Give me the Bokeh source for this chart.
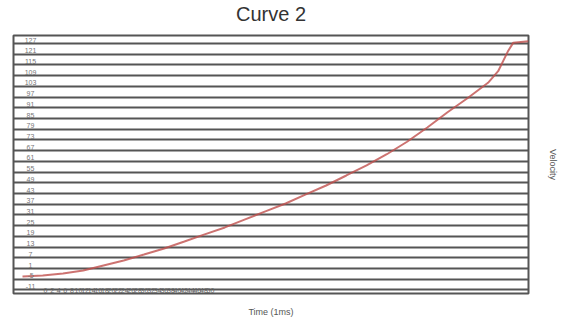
from bokeh.plotting import figure
from bokeh.models import Range1d, FixedTicker, Title
from bokeh.embed import file_html
from bokeh.resources import INLINE
from bokeh.core.properties import value

title = "Curve 2"
x_label = "Time (1ms)"
y_label = "Velocity"

time_ms = [0, 2, 4, 6, 8, 10, 12, 14, 16, 18, 20, 22, 24, 26, 28, 30, 32, 34,
           36, 38, 40, 42, 44, 46, 47, 48, 48.5, 50]
velocity = [-3.5, -2.9, -1.8, -0.1, 2.7, 5.5, 8.8, 12.2, 16.1, 20.1, 24.0, 28.5,
            33.0, 37.4, 42.5, 47.5, 53.1, 58.8, 65.0, 72.0, 80.0, 88.5, 96.5,
            105.0, 111.5, 123.0, 127.5, 128.3]

y_ticks = [-11, -5, 1, 7, 13, 19, 25, 31, 37, 43, 49, 55, 61, 67, 73, 79, 85,
           91, 97, 103, 109, 115, 121, 127]
y_tick_labels = ["-11", "-5", "1", "7", "13", "19", "25", "31", "37", "43", "49",
                 "55", "61", "67", "73", "79", "85", "91", "97", "103", "109",
                 "115", "121", "127"]
x_tick_labels = [str(t) for t in range(0, 52, 2)]

x_start, x_end = -0.89, 50
y_start, y_end = -13, 131.5

p = figure(width=562, height=323,
           x_range=Range1d(x_start, x_end), y_range=Range1d(y_start, y_end),
           x_axis_location="below", y_axis_location="right",
           output_backend="svg", toolbar_location=None,
           min_border_left=13, min_border_right=34, min_border_top=0,
           min_border_bottom=30)
p.extra_x_ranges = {"xlab": Range1d(-4.85, 73.18)}

# spacer between title and frame
p.add_layout(Title(text=" ", text_font_size="8px", standoff=0), "above")
p.add_layout(Title(text=title, align="center", text_font="Liberation Sans",
                   text_font_size="20px", text_font_style="normal",
                   text_color="#333333", standoff=0), "above")

p.background_fill_color = "white"
p.border_fill_color = "white"
p.outline_line_color = "#555555"
p.outline_line_width = 2
p.outline_line_alpha = 1.0

for ax in (p.xaxis[0], p.yaxis[0]):
    ax.ticker = FixedTicker(ticks=[])
    ax.major_tick_line_color = None
    ax.minor_tick_line_color = None
    ax.axis_line_color = None
    ax.axis_label_text_font = "Liberation Sans"
    ax.axis_label_text_font_size = "9px"
    ax.axis_label_text_font_style = "normal"
    ax.axis_label_text_color = "#555555"
p.xaxis.axis_label = x_label
p.yaxis.axis_label = y_label
p.xaxis.axis_label_standoff = 13
p.yaxis.axis_label_standoff = 19

p.xgrid.visible = False
p.ygrid.ticker = FixedTicker(ticks=y_ticks)
p.ygrid.grid_line_color = "#555555"
p.ygrid.grid_line_width = 2
p.ygrid.grid_line_alpha = 1.0

p.line(time_ms, velocity, line_color="#c0504d", line_width=2, line_alpha=0.8)

p.text(x=[x_start] * len(y_ticks), y=y_ticks, text=y_tick_labels,
       x_offset=17, y_offset=-1, text_align="center", text_baseline="bottom",
       text_font=value("Liberation Sans"), text_font_size="7px", text_color="#777777")

p.text(x=list(range(len(x_tick_labels))), y=[y_start] * len(x_tick_labels),
       text=x_tick_labels, x_range_name="xlab", y_offset=-1,
       text_align="center", text_baseline="bottom",
       text_font=value("Liberation Sans"), text_font_size="7px", text_color="#666666")

open("out.html", "w").write(file_html(p, INLINE))
